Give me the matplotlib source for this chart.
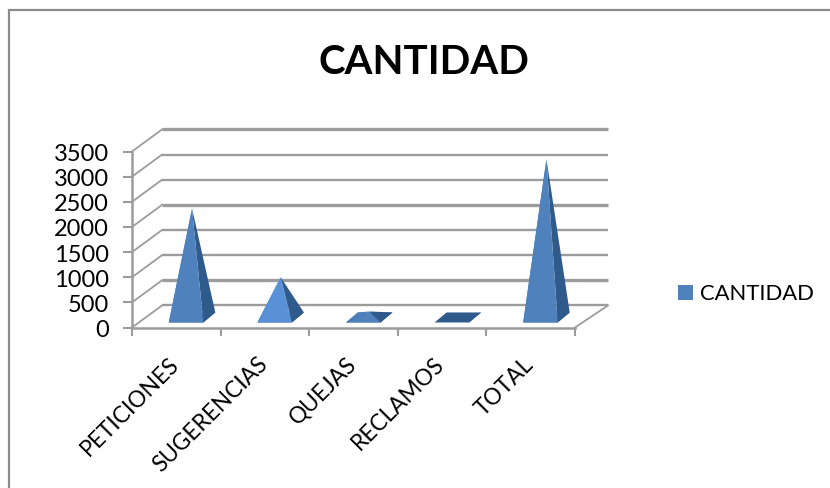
import matplotlib
matplotlib.use("Agg")
import matplotlib.pyplot as plt
from matplotlib.patches import Polygon, Rectangle

# Data
categories = ["PETICIONES", "SUGERENCIAS", "QUEJAS", "RECLAMOS", "TOTAL"]
values = [2170, 800, 120, 0, 3150]
y_ticks = [0, 500, 1000, 1500, 2000, 2500, 3000, 3500]
series_name = "CANTIDAD"

W, H = 830, 489
GRID = "#9c9c9c"
FRONT = "#4f81bd"
FRONT_LIGHT = "#5a90d6"
SIDE = "#2f5a8c"

# Oblique projection of the floor, in axis units
WALL_DX_L = 30 / 88.6
WALL_DX_R = 33 / 88.6
WALL_DY = 22 / 25.1 * 500
BASE_DX = 12 / 88.6
BASE_DY = 10 / 25.1 * 500
BASE_Y = 100
HALF_W = 0.195
CENTER = 0.61

plt.rcParams["font.family"] = ["Lato", "DejaVu Sans"]

fig = plt.figure(figsize=(W / 100, H / 100), dpi=100)

# Outer chart frame
fig.add_artist(Rectangle((9 / W, -0.02), 1.0, 1 - 10.5 / H + 0.02, transform=fig.transFigure,
                         fill=False, edgecolor="#8c8c8c", linewidth=1.6))

ax = fig.add_axes([132 / W, 1 - 328.5 / H, 443 / W, 176 / H])
ax.set_xlim(0, len(categories))
ax.set_ylim(0, 3500)
ax.patch.set_alpha(0)

for name in ["top", "right"]:
    ax.spines[name].set_visible(False)
for name in ["left", "bottom"]:
    ax.spines[name].set_color(GRID)
    ax.spines[name].set_linewidth(1.8)

# Back wall grid lines and left wall diagonals
n = len(categories)
for i, t in enumerate(y_ticks):
    lw = 2.4 if i in (1, 4, 7) else 1.7
    ax.plot([WALL_DX_L, n + WALL_DX_R], [t + WALL_DY, t + WALL_DY], color=GRID, lw=lw,
            clip_on=False, zorder=1, solid_capstyle="butt")
    ax.plot([0, WALL_DX_L], [t, t + WALL_DY], color=GRID, lw=1.3, clip_on=False, zorder=1)
ax.plot([n, n + WALL_DX_R], [0, WALL_DY], color=GRID, lw=1.3, clip_on=False, zorder=1)

# Pyramids
for i, v in enumerate(values):
    left = i + CENTER - HALF_W
    right = i + CENTER + HALF_W
    apex = (i + CENTER + BASE_DX / 2, BASE_Y + BASE_DY / 2 + v)
    front_color = FRONT_LIGHT if i == 1 else FRONT
    base = [(left, BASE_Y), (right, BASE_Y), (right + BASE_DX, BASE_Y + BASE_DY),
            (left + BASE_DX, BASE_Y + BASE_DY)]
    ax.add_patch(Polygon(base, closed=True, facecolor=SIDE, edgecolor="none", zorder=3))
    ax.add_patch(Polygon([(right, BASE_Y), (right + BASE_DX, BASE_Y + BASE_DY), apex],
                         closed=True, facecolor=SIDE, edgecolor="none", zorder=4))
    if v > 0:
        # left face only shows on the very flat pyramids
        ax.add_patch(Polygon([(left, BASE_Y), (left + BASE_DX, BASE_Y + BASE_DY), apex],
                             closed=True, facecolor=front_color, edgecolor="none", zorder=5))
        ax.add_patch(Polygon([(left, BASE_Y), (right, BASE_Y), apex],
                             closed=True, facecolor=front_color, edgecolor="none", zorder=5))

# Axis ticks and labels
ax.set_yticks(y_ticks)
ax.set_yticklabels([str(t) for t in y_ticks])
ax.set_xticks(range(n + 1))
ax.set_xticklabels([])
ax.tick_params(axis="x", which="major", length=5.5, width=1.5, color=GRID, direction="out")
ax.tick_params(axis="y", length=6.5, width=1.5, color=GRID, labelsize=17, pad=10)

for i, name in enumerate(categories):
    ax.annotate(name, xy=(i + 0.5, 0), xytext=(-6, -18), textcoords="offset points",
                rotation=45, ha="right", va="top", rotation_mode="anchor", fontsize=16.3)

fig.text(424 / W, 1 - 62 / H, series_name, fontsize=29, fontweight="bold",
         ha="center", va="center")

# Legend
fig.add_artist(Rectangle((678 / W, 1 - 301 / H), 15 / W, 15 / H, transform=fig.transFigure,
                         facecolor=FRONT, edgecolor="none"))
fig.text(700 / W, 1 - 294 / H, series_name, fontsize=15.8, ha="left", va="center")

fig.savefig("out.png", dpi=100)
